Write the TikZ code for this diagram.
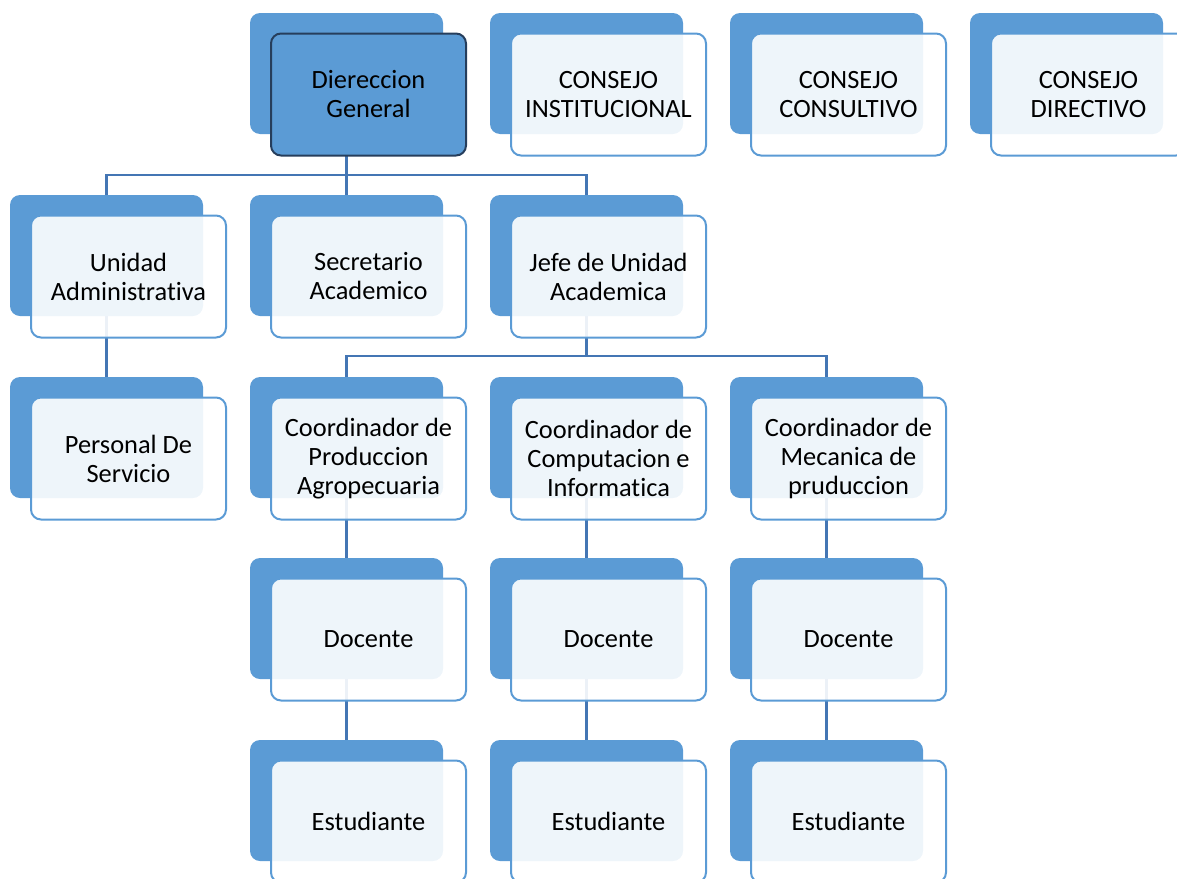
\documentclass[tikz,border=0pt]{standalone}
\usepackage{fontspec}
\setmainfont[Ligatures=NoCommon]{Carlito}
\usetikzlibrary{backgrounds}
\definecolor{smblau}{RGB}{91,155,213}
\definecolor{linieblau}{RGB}{68,118,180}
\definecolor{dunkelblau}{RGB}{38,62,92}
% Kasten: hinten (blau) und vorne (hell), #3/#4 = linke obere Ecke
\newcommand{\kasten}[5][]{%
  \node[hinten] (#2-b) at (#3+96.5,#4+60.5) {};
  \node[vorne,#1] (#2) at (#3+118.5,#4+81.5) {#5};}
\begin{document}
\begin{tikzpicture}[x=0.5pt,y=-0.5pt,
	hinten/.style={fill=smblau,rounded corners=5pt,minimum width=96.5pt,minimum height=60.5pt,inner sep=0pt},
	vorne/.style={draw=smblau,line width=1pt,fill=white,fill opacity=0.9,text opacity=1,rounded corners=5pt,
		minimum width=97.5pt,minimum height=61pt,inner sep=0pt,align=center,font=\fontsize{13.2}{14.5}\selectfont},
	linie/.style={draw=linieblau,line width=1.3pt}]
	\useasboundingbox (0,0) rectangle (1177,878);
	\clip (0,0) rectangle (1177,878);
	% Leitung und Raete
	\kasten[fill=smblau,fill opacity=1,draw=dunkelblau]{dg}{250}{13}{Diereccion\\General}
	\kasten{ci}{490}{13}{CONSEJO\\INSTITUCIONAL}
	\kasten{cc}{730}{13}{CONSEJO\\CONSULTIVO}
	\kasten{cd}{970}{13}{CONSEJO\\DIRECTIVO}
	% zweite Ebene
	\kasten{ua}{10}{195}{Unidad\\Administrativa}
	\kasten{sa}{250}{195}{Secretario\\Academico}
	\kasten{jua}{490}{195}{Jefe de Unidad\\Academica}
	% dritte Ebene
	\kasten{ps}{10}{377}{Personal De\\Servicio}
	\kasten{koo1}{250}{377}{Coordinador de\\Produccion\\Agropecuaria}
	\kasten{koo2}{490}{377}{Coordinador de\\Computacion e\\Informatica}
	\kasten{koo3}{730}{377}{Coordinador de\\Mecanica de\\pruduccion}
	% Docente, Estudiante
	\foreach \n/\x in {1/250,2/490,3/730} {
		\kasten{doz\n}{\x}{558}{Docente}
		\kasten{est\n}{\x}{740}{Estudiante}
	}
	% Verbindungen
	\coordinate (bar1) at (0,175);
	\coordinate (bar2) at (0,356);
	\begin{scope}[on background layer]
		\draw[linie] (dg-b.center) -- (sa-b.center);
		\draw[linie] (ua-b.center) |- (bar1 -| jua-b.center) -- (jua-b.center);
		\draw[linie] (ua-b.center) -- (ps-b.center);
		\draw[linie] (jua-b.center) -- (bar2 -| jua-b.center);
		\draw[linie] (koo1-b.center) |- (bar2 -| koo3-b.center) -- (koo3-b.center);
		\foreach \n in {1,2,3}
			\draw[linie] (koo\n-b.center) -- (est\n-b.center);
	\end{scope}
\end{tikzpicture}
\end{document}
